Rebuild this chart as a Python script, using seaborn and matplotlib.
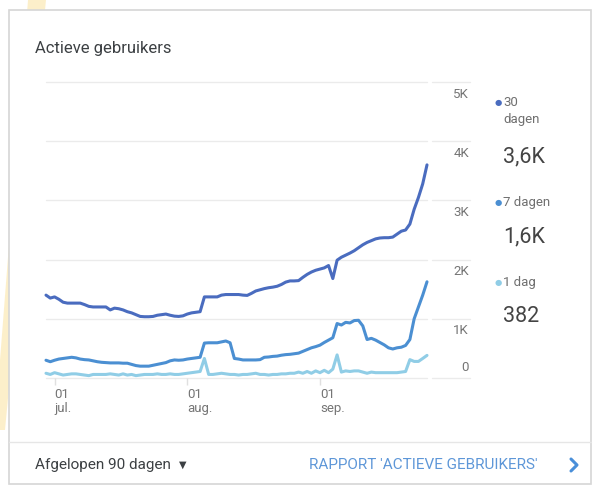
import matplotlib
matplotlib.use("Agg")
import matplotlib.pyplot as plt
from matplotlib.patches import Rectangle, Polygon
import seaborn as sns
import pandas as pd
import numpy as np

sns.set_style("white")
plt.rcParams['font.family'] = ['Roboto', 'DejaVu Sans']

# dagelijkse waarden, 29 jun t/m 26 sep
start_date = "2019-06-29"
users_30d = [1400, 1350, 1370, 1330, 1280, 1265, 1265, 1265, 1265, 1240,
             1210, 1200, 1200, 1200, 1200, 1150, 1180, 1170, 1150, 1120,
             1100, 1070, 1040, 1035, 1035, 1040, 1060, 1070, 1080, 1060,
             1045, 1040, 1050, 1080, 1100, 1110, 1120, 1370, 1370, 1370,
             1370, 1400, 1410, 1410, 1410, 1410, 1400, 1395, 1430, 1470,
             1490, 1510, 1525, 1535, 1550, 1580, 1620, 1640, 1640, 1645,
             1700, 1750, 1790, 1820, 1840, 1860, 1900, 1680, 1990, 2040,
             2075, 2110, 2150, 2200, 2250, 2290, 2320, 2350, 2365, 2370,
             2370, 2380, 2430, 2480, 2500, 2600, 2850, 3050, 3280, 3600]
users_7d = [300, 275, 300, 320, 330, 340, 350, 340, 320, 310,
            305, 290, 275, 265, 260, 255, 255, 255, 250, 250,
            230, 210, 200, 200, 200, 215, 230, 245, 260, 290,
            305, 300, 305, 320, 330, 340, 350, 590, 595, 595,
            595, 610, 625, 595, 330, 320, 305, 305, 305, 305,
            310, 350, 355, 365, 370, 385, 395, 400, 410, 420,
            450, 480, 510, 530, 555, 600, 640, 680, 920, 895,
            940, 930, 970, 975, 880, 650, 670, 640, 600, 560,
            510, 490, 510, 520, 550, 650, 1000, 1200, 1400, 1625]
users_1d = [80, 60, 90, 70, 50, 60, 70, 70, 60, 50,
            40, 60, 60, 60, 60, 70, 60, 50, 70, 50,
            60, 40, 50, 60, 60, 60, 70, 60, 60, 70,
            60, 60, 70, 80, 90, 100, 110, 330, 60, 60,
            70, 80, 70, 60, 60, 50, 60, 60, 70, 80,
            60, 60, 50, 60, 60, 70, 70, 80, 80, 100,
            80, 110, 80, 120, 90, 130, 90, 150, 390, 100,
            120, 110, 120, 120, 100, 80, 100, 90, 90, 90,
            90, 90, 90, 100, 110, 310, 280, 280, 330, 382]

series_names = ["30 dagen", "7 dagen", "1 dag"]
series_totals = ["3,6K", "1,6K", "382"]
colors = ["#4a6cbf", "#4b8fd2", "#90cde6"]
y_ticks = [0, 1000, 2000, 3000, 4000, 5000]
y_labels = ["0", "1K", "2K", "3K", "4K", "5K"]
x_ticks = ["2019-07-01", "2019-08-01", "2019-09-01"]
x_labels = ["01\njul.", "01\naug.", "01\nsep."]

dates = pd.date_range(start_date, periods=len(users_30d), freq="D")
df = pd.DataFrame({
    "datum": np.tile(dates, 3),
    "gebruikers": users_30d + users_7d + users_1d,
    "reeks": np.repeat(series_names, len(dates)),
})

W, H = 597, 487
fig = plt.figure(figsize=(W / 100, H / 100), dpi=100)
fig.patch.set_facecolor("white")

# gele streep achter de kaart
fig.patches.append(Polygon([(28 / W, 1), (46 / W, 1), (5 / W, 1 - 430 / H), (0, 1 - 430 / H), (0, 1 - 360 / H)],
                           closed=True, transform=fig.transFigure, facecolor="#fbe3a0",
                           edgecolor="none", alpha=0.55, zorder=0))
# kaart
fig.patches.append(Rectangle((9 / W, 1 - 484 / H), 582 / W, 474 / H, transform=fig.transFigure,
                             facecolor="white", edgecolor="#d6d6d6", lw=1.2, zorder=1))
fig.lines.append(plt.Line2D([9 / W, 591 / W], [1 - 442 / H] * 2, transform=fig.transFigure,
                            color="#e6e6e6", lw=1, zorder=2))

ax = fig.add_axes([46 / W, 1 - 378 / H, 381 / W, 296 / H])
ax.set_zorder(3)
ax.patch.set_alpha(0)

sns.lineplot(data=df, x="datum", y="gebruikers", hue="reeks", hue_order=series_names,
             palette=colors, linewidth=2.2, legend=False, ax=ax, clip_on=False)

ax.set_xlim(dates[0], dates[-1])
ax.set_ylim(0, 5000)
for s in ax.spines.values():
    s.set_visible(False)
ax.set_xlabel("")
ax.set_ylabel("")
ax.set_yticks([])

# rasterlijnen, met los stukje bij de labels
for v, lab in zip(y_ticks, y_labels):
    ax.plot([0, 1], [v, v], transform=ax.get_yaxis_transform(), color="#ebebeb",
            lw=1, zorder=0, clip_on=False)
    ax.plot([1.013, 1.113], [v, v], transform=ax.get_yaxis_transform(), color="#ebebeb",
            lw=1, zorder=0, clip_on=False)
    off = 3 if v == 0 else -4
    ax.annotate(lab, xy=(1.11, v), xycoords=("axes fraction", "data"), xytext=(0, off),
                textcoords="offset points", ha="right", va="bottom" if v == 0 else "top",
                fontsize=9.5, color="#757575")

ax.set_xticks(pd.to_datetime(x_ticks))
ax.set_xticklabels(x_labels, ha="left", fontsize=9.5, color="#757575", linespacing=1.1)
ax.tick_params(axis="x", length=5, color="#e0e0e0", width=1, pad=2, bottom=True)

# legenda rechts
legend_y = [103, 203, 283]
for i, (name, total, col) in enumerate(zip(series_names, series_totals, colors)):
    y0 = legend_y[i]
    fig.text(498 / W, 1 - y0 / H, "●", color=col, fontsize=6, ha="center", va="center",
             family=["DejaVu Sans"])
    label = "30\ndagen" if name == "30 dagen" else name
    fig.text(503 / W, 1 - (y0 - 7) / H, label, color="#6f6f6f", fontsize=9.5, ha="left",
             va="top", linespacing=1.45)
    ty = 157 if i == 0 else y0 + 34
    fig.text(503 / W, 1 - ty / H, total, color="#444444", fontsize=15.5, ha="left",
             va="center")

fig.text(35 / W, 1 - 48 / H, "Actieve gebruikers", fontsize=12, color="#3c4043",
         ha="left", va="center")
fig.text(35 / W, 1 - 465 / H, "Afgelopen 90 dagen", fontsize=11, color="#3c4043",
         ha="left", va="center")
fig.text(183 / W, 1 - 465 / H, "▼", fontsize=7, color="#3c4043", ha="center", va="center",
         family=["DejaVu Sans"])
fig.text(309 / W, 1 - 465 / H, "RAPPORT 'ACTIEVE GEBRUIKERS'", fontsize=11, color="#5e97d8",
         ha="left", va="center")
# pijltje rechtsonder
fig.lines.append(plt.Line2D([571 / W, 577 / W, 571 / W], [1 - 459 / H, 1 - 465 / H, 1 - 471 / H],
                            transform=fig.transFigure, color="#4a8fd9", lw=2.2, zorder=3))

fig.savefig("out.png", dpi=100)
